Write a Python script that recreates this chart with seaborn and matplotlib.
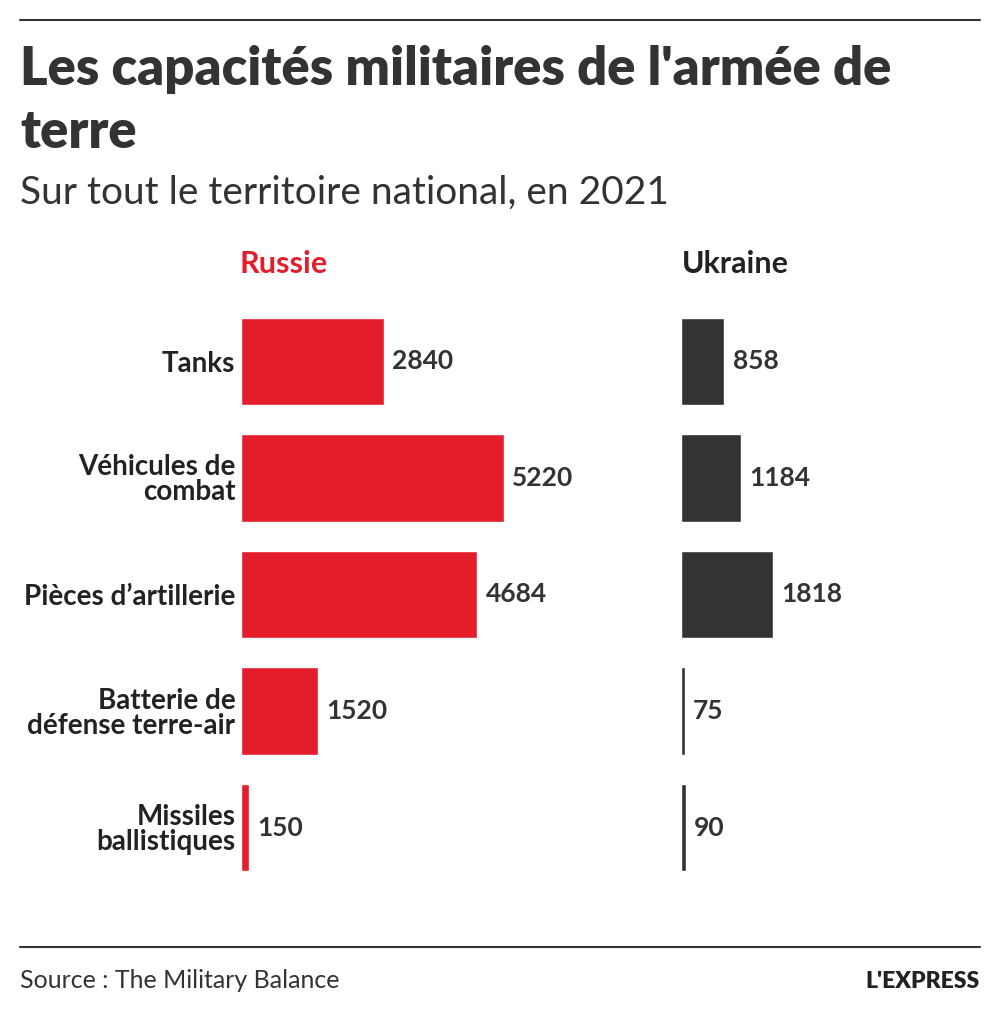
import numpy as np
import pandas as pd
import matplotlib.pyplot as plt
import seaborn as sns

categories = ["Tanks", "Véhicules de\ncombat", "Pièces d’artillerie",
              "Batterie de\ndéfense terre-air", "Missiles\nballistiques"]
russie = [2840, 5220, 4684, 1520, 150]
ukraine = [858, 1184, 1818, 75, 90]

title_lines = ["Les capacités militaires de l'armée de", "terre"]
subtitle = "Sur tout le territoire national, en 2021"
source = "Source : The Military Balance"
logo = "L'EXPRESS"

RED = "#e31d2b"
DARK = "#333333"
TEXT = "#222222"

sns.set_theme(style="white")
plt.rcParams['font.family'] = ['Lato', 'DejaVu Sans']

df = pd.DataFrame({"cat": categories, "Russie": russie, "Ukraine": ukraine})

W, H = 1000, 1025
fig = plt.figure(figsize=(W / 100, H / 100), dpi=100)
fig.patch.set_facecolor("white")
px = 0.0504  # pixels per unit, same scale for both panels


def fy(y):
    return 1 - y / H


def add_axes(left, width):
    return fig.add_axes([left / W, fy(886), width / W, 583 / H])


ax1 = add_axes(241, 400)
ax2 = add_axes(681, 300)
for ax, col, color, w in [(ax1, "Russie", RED, 400), (ax2, "Ukraine", DARK, 300)]:
    sns.barplot(data=df, x=col, y="cat", ax=ax, color=color, saturation=1,
                width=0.75, orient="h")
    ax.set_xlim(0, w / px)
    ax.set_ylim(4.5, -0.5)
    ax.bar_label(ax.containers[0], padding=6, fontsize=19, fontweight="bold", color=DARK)
    ax.set_xlabel("")
    ax.set_ylabel("")
    ax.set_xticks([])
    sns.despine(ax=ax, left=True, bottom=True)
    ax.set_facecolor("none")

ax1.tick_params(axis="y", length=0, pad=4, labelsize=20)
for lbl in ax1.get_yticklabels():
    lbl.set_fontweight("bold")
    lbl.set_color(TEXT)
    lbl.set_linespacing(0.95)
ax2.set_yticks([])

# column headers
fig.text(240 / W, fy(273), "Russie", color=RED, fontsize=22, fontweight="bold", va="baseline")
fig.text(682 / W, fy(273), "Ukraine", color=TEXT, fontsize=22, fontweight="bold", va="baseline")

# title block
fig.text(20 / W, fy(85), title_lines[0], color=DARK, fontsize=37.8, fontweight="heavy", va="baseline")
fig.text(20 / W, fy(148), title_lines[1], color=DARK, fontsize=37.8, fontweight="heavy", va="baseline")
fig.text(20 / W, fy(204), subtitle, color=DARK, fontsize=28, va="baseline")

# rules
fig.add_artist(plt.Line2D([20 / W, 980 / W], [fy(20), fy(20)], color=DARK, lw=1.5))
fig.add_artist(plt.Line2D([20 / W, 980 / W], [fy(947), fy(947)], color=DARK, lw=1.5))

# footer
fig.text(20 / W, fy(988), source, color=DARK, fontsize=18, va="baseline")
fig.text(980 / W, fy(988), logo, color=TEXT, fontsize=16.5, fontweight="heavy",
         ha="right", va="baseline")

fig.savefig("out.png", dpi=100, facecolor="white")
